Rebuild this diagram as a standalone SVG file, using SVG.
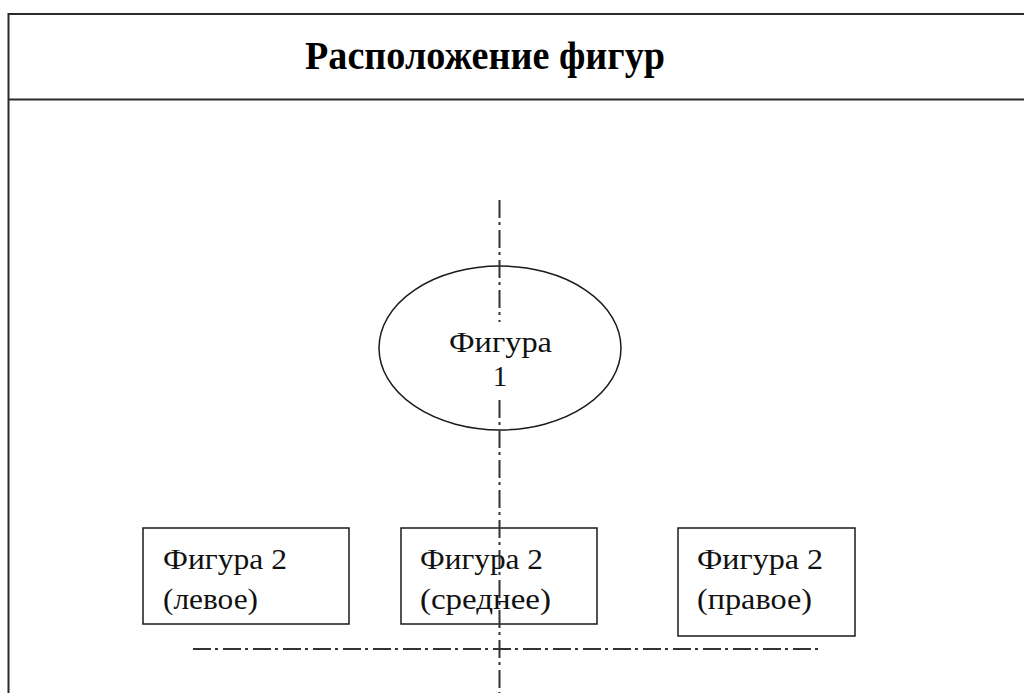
<svg xmlns="http://www.w3.org/2000/svg" width="1024" height="693" viewBox="0 0 1024 693">
  <style>
    .frame { fill: none; stroke: #2a2a2a; stroke-width: 2; }
    .shape { fill: none; stroke: #1a1a1a; stroke-width: 1.5; }
    .axis { fill: none; stroke: #333; stroke-width: 2; stroke-dasharray: 18 4 3 5; }
    .lbl { font-family: "Liberation Serif", "Times New Roman", serif; font-size: 29px; fill: #111; }
    .title { font-family: "Liberation Serif", "Times New Roman", serif; font-size: 40px; font-weight: bold; fill: #000; }
  </style>
  <rect width="1024" height="693" fill="#fff"/>

  <!-- table frame with header row -->
  <g id="frame">
    <path class="frame" d="M1024 14 H8.5 V693"/>
    <line class="frame" x1="8.5" y1="99.5" x2="1024" y2="99.5"/>
    <text class="title" x="305" y="69" textLength="360" lengthAdjust="spacingAndGlyphs">Расположение фигур</text>
  </g>

  <!-- figure 1 -->
  <g id="figure1">
    <ellipse class="shape" cx="500" cy="348" rx="121" ry="82"/>
    <text class="lbl" x="449" y="352" textLength="103" lengthAdjust="spacingAndGlyphs">Фигура</text>
    <text class="lbl" x="500" y="386" text-anchor="middle">1</text>
  </g>

  <!-- figure 2 variants -->
  <g id="figure2-left">
    <rect class="shape" x="143" y="528" width="206" height="96"/>
    <text class="lbl" x="163" y="569" textLength="124" lengthAdjust="spacingAndGlyphs">Фигура 2</text>
    <text class="lbl" x="163" y="609" textLength="95" lengthAdjust="spacingAndGlyphs">(левое)</text>
  </g>
  <g id="figure2-middle">
    <rect class="shape" x="401" y="528" width="196" height="96"/>
    <text class="lbl" x="420" y="569" textLength="123" lengthAdjust="spacingAndGlyphs">Фигура 2</text>
    <text class="lbl" x="420" y="609" textLength="131" lengthAdjust="spacingAndGlyphs">(среднее)</text>
  </g>
  <g id="figure2-right">
    <rect class="shape" x="678" y="528" width="177" height="108"/>
    <text class="lbl" x="697" y="569" textLength="126" lengthAdjust="spacingAndGlyphs">Фигура 2</text>
    <text class="lbl" x="697" y="609" textLength="115" lengthAdjust="spacingAndGlyphs">(правое)</text>
  </g>

  <!-- center axes -->
  <g id="axes">
    <line class="axis" x1="499.5" y1="200" x2="499.5" y2="322"/>
    <line class="axis" x1="499.5" y1="400" x2="499.5" y2="693"/>
    <line class="axis" x1="193" y1="649" x2="822" y2="649"/>
  </g>
</svg>
